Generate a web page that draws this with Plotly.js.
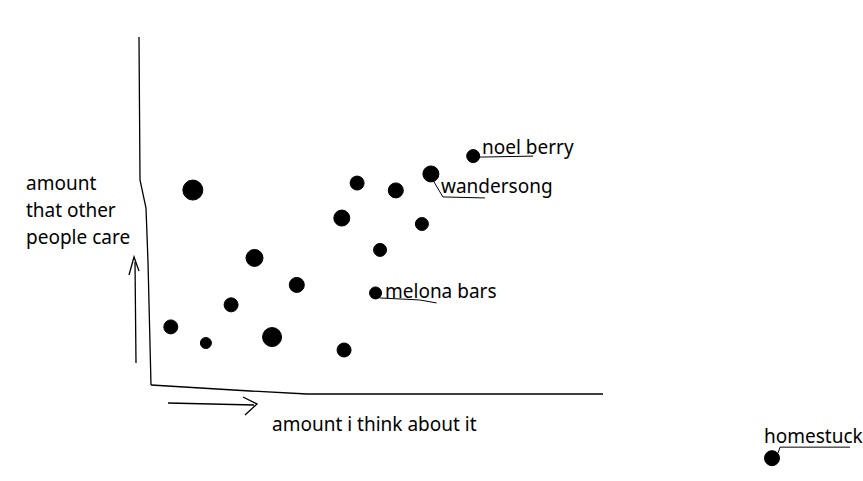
<!DOCTYPE html>
<html>
<head>
<meta charset="utf-8">
<script src="https://cdn.plot.ly/plotly-3.0.1.min.js"></script>
<style>html,body{margin:0;padding:0;background:#fff;}#chart{width:863px;height:481px;}</style>
</head>
<body>
<div id="chart"></div>
<script>
// Data (arbitrary units: how much I think about it vs how much other people care)
const thinkAmount = [9.3, 45.8, 54.4, 62.2, 71.6, 42.4, 60.2, 50.9, 23.0, 32.4, 49.9, 17.8, 4.4, 12.2, 26.9, 42.9, 138.0];
const careAmount  = [55.7, 57.7, 55.6, 60.3, 65.4, 47.7, 46.0, 38.6, 36.3, 28.6, 26.3, 22.9, 16.6, 12.0, 13.7, 10.0, -20.9];
const pointNames  = ['', '', '', 'wandersong', 'noel berry', '', '', '', '', '', 'melona bars', '', '', '', '', '', 'homestuck'];
const blobSizes   = [20, 14, 15, 16, 13, 16, 13, 13, 17, 15, 12, 14, 14, 11, 19, 14, 15];
const xAxisLabel = 'amount i think about it';
const yAxisLabelLines = ['amount', 'that other', 'people care'];

// pixel <-> data helpers for the hand-drawn decorations
const X0 = 151, Y0 = 385, SX = 4.5, SY = 3.5, W = 863, H = 481;
const dx = px => (px - X0) / SX;
const dy = py => (Y0 - py) / SY;
const P = (px, py) => dx(px).toFixed(3) + ',' + dy(py).toFixed(3);
const toPx = i => [X0 + thinkAmount[i] * SX, Y0 - careAmount[i] * SY];
const rel = (i, ox, oy) => { const p = toPx(i); return P(p[0] + ox, p[1] + oy); };

const FONT = {family: 'Noto Sans, Open Sans, sans-serif', size: 19, color: '#000'};
const LINE = {color: '#000', width: 1.3};

const shapes = [
  // hand-drawn y axis
  {type: 'path', path: 'M' + P(139, 37) + ' L' + P(140, 180) + ' L' + P(146, 208) + ' L' + P(148, 262) + ' L' + P(151, 385), line: LINE},
  // hand-drawn x axis
  {type: 'path', path: 'M' + P(151, 385) + ' L' + P(250, 391) + ' L' + P(307, 394) + ' L' + P(603, 394), line: LINE},
  // y arrow
  {type: 'path', path: 'M' + P(136, 363) + ' L' + P(135, 262), line: LINE},
  {type: 'path', path: 'M' + P(129, 275) + ' L' + P(134, 257) + ' L' + P(139, 271), line: LINE},
  // x arrow
  {type: 'path', path: 'M' + P(168, 403) + ' L' + P(254, 405), line: LINE},
  {type: 'path', path: 'M' + P(243, 397) + ' L' + P(257, 404) + ' L' + P(245, 415), line: LINE}
];

const leaders = {
  'noel berry':  [[6, 1], [60, 0]],
  'wandersong':  [[2, 6], [12, 23], [54, 24]],
  'melona bars': [[4, 5], [44, 7], [61, 10]],
  'homestuck':   [[6, -5], [8, -11], [78, -11]]
};
const labelShift = {
  'noel berry':  [7, 9],
  'wandersong':  [8, -12],
  'melona bars': [7, 2],
  'homestuck':   [-10, 22]
};

const annotations = [];
pointNames.forEach((name, i) => {
  if (!name) return;
  const pts = leaders[name];
  shapes.push({type: 'path', path: pts.map((o, k) => (k ? ' L' : 'M') + rel(i, o[0], o[1])).join(''), line: {color: '#000', width: 1}});
  annotations.push({
    x: thinkAmount[i], y: careAmount[i], text: name, showarrow: false,
    xanchor: 'left', yanchor: 'middle', xshift: labelShift[name][0], yshift: labelShift[name][1], font: FONT
  });
});

annotations.push({x: dx(270), y: dy(424), text: xAxisLabel, showarrow: false, xanchor: 'left', yanchor: 'middle', font: FONT});
yAxisLabelLines.forEach((t, k) => {
  annotations.push({x: dx(24), y: dy(183 + k * 27), text: t, showarrow: false, xanchor: 'left', yanchor: 'middle', font: FONT});
});

const trace = {
  type: 'scatter', mode: 'markers',
  x: thinkAmount, y: careAmount, text: pointNames,
  marker: {color: '#000', opacity: 1, size: blobSizes, line: {width: 1, color: '#000'}},
  hoverinfo: 'text'
};

const layout = {
  width: W, height: H, autosize: false,
  margin: {l: 0, r: 0, t: 0, b: 0, pad: 0},
  paper_bgcolor: '#fff', plot_bgcolor: '#fff',
  showlegend: false,
  xaxis: {range: [dx(0), dx(W)], visible: false, fixedrange: true},
  yaxis: {range: [dy(H), dy(0)], visible: false, fixedrange: true},
  shapes: shapes,
  annotations: annotations
};

Plotly.newPlot('chart', [trace], layout, {displayModeBar: false, staticPlot: true});
</script>
</body>
</html>
